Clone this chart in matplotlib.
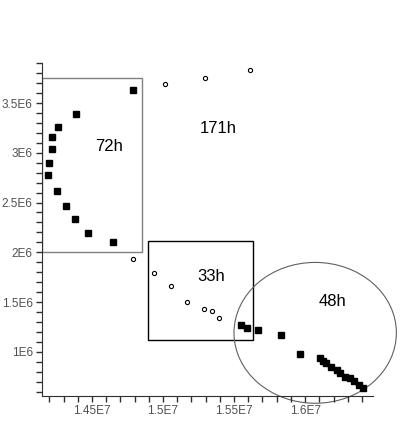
import matplotlib
matplotlib.use("Agg")
import matplotlib.pyplot as plt
from matplotlib.patches import Rectangle, Ellipse
from matplotlib.ticker import MultipleLocator

plt.rcParams['font.family'] = ['Liberation Sans', 'DejaVu Sans']

# filled squares (72h run, then 48h run)
sq_x = [1.4789e7, 1.4385e7, 1.4262e7, 1.4218e7, 1.4220e7, 1.4195e7, 1.4188e7,
        1.4253e7, 1.4320e7, 1.4383e7, 1.4471e7, 1.4645e7,
        1.5547e7, 1.5593e7, 1.5667e7, 1.5830e7, 1.5965e7,
        1.6104e7, 1.6127e7, 1.6150e7, 1.6183e7, 1.6225e7, 1.6248e7,
        1.6283e7, 1.6318e7, 1.6341e7, 1.6376e7, 1.6411e7]
sq_y = [3.634e6, 3.394e6, 3.259e6, 3.159e6, 3.038e6, 2.895e6, 2.777e6,
        2.620e6, 2.463e6, 2.339e6, 2.189e6, 2.101e6,
        1.271e6, 1.241e6, 1.218e6, 1.171e6, 0.974e6,
        0.934e6, 0.907e6, 0.884e6, 0.849e6, 0.816e6, 0.783e6,
        0.749e6, 0.733e6, 0.706e6, 0.666e6, 0.639e6]

# open circles (171h run, then 33h run)
ci_x = [1.5017e7, 1.5296e7, 1.5609e7,
        1.4789e7, 1.4936e7, 1.5056e7, 1.5168e7, 1.5291e7, 1.5342e7, 1.5393e7]
ci_y = [3.695e6, 3.755e6, 3.828e6,
        1.931e6, 1.787e6, 1.660e6, 1.502e6, 1.426e6, 1.412e6, 1.341e6]

xticks = [1.45e7, 1.5e7, 1.55e7, 1.6e7]
xticklabels = ['1.45E7', '1.5E7', '1.55E7', '1.6E7']
yticks = [1e6, 1.5e6, 2e6, 2.5e6, 3e6, 3.5e6]
yticklabels = ['1E6', '1.5E6', '2E6', '2.5E6', '3E6', '3.5E6']

fig = plt.figure(figsize=(4.15, 4.38), dpi=100)
ax = fig.add_axes([0.1005, 0.0959, 0.799, 0.7596])

ax.plot(sq_x, sq_y, 's', color='black', markersize=5, zorder=3)
ax.plot(ci_x, ci_y, 'o', markerfacecolor='white', markeredgecolor='black',
        markersize=3, markeredgewidth=0.8, zorder=3)

# group outlines
ax.add_patch(Rectangle((1.4146e7, 2.0e6), 1.4850e7 - 1.4146e7, 3.751e6 - 2.0e6,
                       fill=False, edgecolor='#808080', linewidth=1.0))
ax.add_patch(Rectangle((1.4896e7, 1.117e6), 1.5632e7 - 1.4896e7, 2.114e6 - 1.117e6,
                       fill=False, edgecolor='black', linewidth=1.0))
ax.add_patch(Ellipse((1.6071e7, 1.190e6), 1.143e6, 1.416e6, fill=False,
                     edgecolor='#606060', linewidth=0.8, clip_on=False))

ax.text(1.4622e7, 3.065e6, '72h', fontsize=12, ha='center', va='center')
ax.text(1.5389e7, 3.243e6, '171h', fontsize=12, ha='center', va='center')
ax.text(1.5342e7, 1.753e6, '33h', fontsize=12, ha='center', va='center')
ax.text(1.6190e7, 1.502e6, '48h', fontsize=12, ha='center', va='center')

ax.set_xlim(1.4146e7, 1.648e7)
ax.set_ylim(0.555e6, 3.9e6)

ax.set_xticks(xticks)
ax.set_xticklabels(xticklabels)
ax.set_yticks(yticks)
ax.set_yticklabels(yticklabels)
ax.xaxis.set_minor_locator(MultipleLocator(1e5))
ax.yaxis.set_minor_locator(MultipleLocator(1e5))
ax.tick_params(which='both', direction='out', length=4, width=1.0,
               color='#303030', labelsize=8.5, labelcolor='#505050', pad=2.5)

for s in ['top', 'right']:
    ax.spines[s].set_visible(False)
for s in ['left', 'bottom']:
    ax.spines[s].set_color('#303030')

fig.savefig('out.png', dpi=100)
